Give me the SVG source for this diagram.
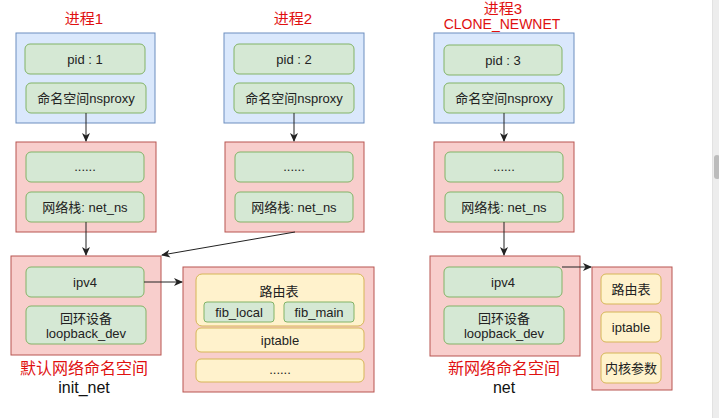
<svg xmlns="http://www.w3.org/2000/svg" width="719" height="418" viewBox="0 0 719 418">
<defs>
<style>
text{font-family:"Liberation Sans","Noto Sans CJK SC",sans-serif;text-anchor:middle;dominant-baseline:central;fill:#222}
.blue{fill:#dae8fc;stroke:#6c8ebf;stroke-width:1}
.red{fill:#f8cecc;stroke:#b85450;stroke-width:1}
.green{fill:#d5e8d4;stroke:#82b366;stroke-width:1}
.yellow{fill:#fff2cc;stroke:#d6b656;stroke-width:1}
.t{font-size:13px}
.title{font-size:15px;fill:#e01010}
.big{font-size:16px;fill:#e01010}
.sub{font-size:14px;fill:#e01010}
.lbl{font-size:16px;fill:#111}
.conn{stroke:#222;stroke-width:1;fill:none;marker-end:url(#arr)}
</style>
<marker id="arr" markerWidth="10" markerHeight="10" refX="8" refY="5" orient="auto" markerUnits="userSpaceOnUse">
<path d="M0,1 L9,5 L0,9 L2.5,5 Z" fill="#222"/>
</marker>
</defs>
<rect x="0" y="0" width="719" height="418" fill="#ffffff"/>
<rect x="712" y="0" width="7" height="418" fill="#ededed"/>
<line x1="712.5" y1="0" x2="712.5" y2="418" stroke="#e2e2e2"/>
<rect x="714" y="155" width="6" height="24" rx="3" fill="#bcbcbc"/>

<g id="proc1">
<text class="title" x="84" y="18">进程1</text>
<rect class="blue" x="16" y="33" width="139" height="90"/>
<rect class="green" x="25" y="44" width="120" height="30" rx="5"/>
<text class="t" x="85" y="59">pid : 1</text>
<rect class="green" x="26" y="83" width="120" height="30" rx="5"/>
<text class="t" x="86" y="98">命名空间nsproxy</text>
</g>
<g id="ns1">
<rect class="red" x="16" y="142" width="140" height="90"/>
<rect class="green" x="26" y="152" width="118" height="30" rx="5"/>
<text class="t" x="85" y="166">......</text>
<rect class="green" x="26" y="192" width="118" height="30" rx="5"/>
<text class="t" x="85" y="207">网络栈: net_ns</text>
</g>

<g id="proc2">
<text class="title" x="293" y="18">进程2</text>
<rect class="blue" x="224" y="33" width="140" height="90"/>
<rect class="green" x="234" y="44" width="120" height="30" rx="5"/>
<text class="t" x="294" y="59">pid : 2</text>
<rect class="green" x="234" y="83" width="120" height="30" rx="5"/>
<text class="t" x="294" y="98">命名空间nsproxy</text>
</g>
<g id="ns2">
<rect class="red" x="225" y="142" width="139" height="90"/>
<rect class="green" x="235" y="152" width="118" height="30" rx="5"/>
<text class="t" x="294" y="166">......</text>
<rect class="green" x="235" y="192" width="118" height="30" rx="5"/>
<text class="t" x="294" y="207">网络栈: net_ns</text>
</g>

<g id="proc3">
<text class="title" x="503" y="8">进程3</text>
<text class="sub" x="502" y="24">CLONE_NEWNET</text>
<rect class="blue" x="434" y="33" width="140" height="90"/>
<rect class="green" x="444" y="45" width="118" height="30" rx="5"/>
<text class="t" x="503" y="60">pid : 3</text>
<rect class="green" x="444" y="83" width="120" height="30" rx="5"/>
<text class="t" x="504" y="98">命名空间nsproxy</text>
</g>
<g id="ns3">
<rect class="red" x="434" y="142" width="140" height="90"/>
<rect class="green" x="445" y="152" width="118" height="30" rx="5"/>
<text class="t" x="504" y="166">......</text>
<rect class="green" x="445" y="192" width="118" height="30" rx="5"/>
<text class="t" x="504" y="207">网络栈: net_ns</text>
</g>

<g id="init_net">
<rect class="red" x="11" y="256" width="150" height="99"/>
<rect class="green" x="26" y="267" width="118" height="30" rx="5"/>
<text class="t" x="85" y="282">ipv4</text>
<rect class="green" x="26" y="306" width="120" height="38" rx="5"/>
<text class="t" x="86" y="318">回环设备</text>
<text class="t" x="86" y="333">loopback_dev</text>
<text class="big" x="84" y="368">默认网络命名空间</text>
<text class="lbl" x="84" y="387">init_net</text>
</g>

<g id="route1">
<rect class="red" x="183" y="267" width="191" height="125"/>
<rect class="yellow" x="196" y="274" width="168" height="52" rx="6"/>
<text class="t" x="279" y="291">路由表</text>
<rect class="green" x="204" y="302" width="70" height="20" rx="3"/>
<text class="t" x="239" y="312">fib_local</text>
<rect class="green" x="284" y="302" width="70" height="20" rx="3"/>
<text class="t" x="319" y="312">fib_main</text>
<rect class="yellow" x="196" y="328" width="168" height="24" rx="5"/>
<text class="t" x="280" y="340">iptable</text>
<rect class="yellow" x="196" y="359" width="168" height="23" rx="5"/>
<text class="t" x="280" y="369">......</text>
</g>

<g id="net">
<rect class="red" x="430" y="256" width="150" height="100"/>
<rect class="green" x="444" y="267" width="118" height="30" rx="5"/>
<text class="t" x="503" y="282">ipv4</text>
<rect class="green" x="444" y="306" width="120" height="38" rx="5"/>
<text class="t" x="504" y="318">回环设备</text>
<text class="t" x="504" y="333">loopback_dev</text>
<text class="big" x="504" y="368">新网络命名空间</text>
<text class="lbl" x="504" y="387">net</text>
</g>

<g id="route2">
<rect class="red" x="592" y="267" width="80" height="123"/>
<rect class="yellow" x="601" y="274" width="60" height="30" rx="5"/>
<text class="t" x="631" y="289">路由表</text>
<rect class="yellow" x="601" y="312" width="60" height="30" rx="5"/>
<text class="t" x="631" y="327">iptable</text>
<rect class="yellow" x="601" y="353" width="60" height="30" rx="5"/>
<text class="t" x="631" y="368">内核参数</text>
</g>

<g id="connectors">
<line class="conn" x1="86" y1="113" x2="86" y2="141"/>
<line class="conn" x1="294" y1="113" x2="294" y2="141"/>
<line class="conn" x1="504" y1="113" x2="504" y2="141"/>
<line class="conn" x1="86" y1="222" x2="86" y2="255"/>
<line class="conn" x1="295" y1="232" x2="162" y2="255"/>
<line class="conn" x1="504" y1="222" x2="504" y2="255"/>
<line class="conn" x1="144" y1="282" x2="182" y2="282"/>
<line class="conn" x1="562" y1="267" x2="591" y2="267"/>
</g>
</svg>
